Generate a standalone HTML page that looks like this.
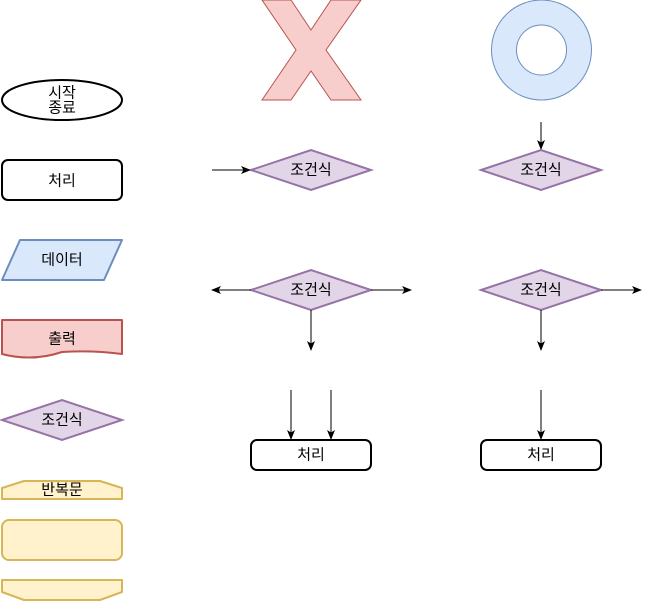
<!DOCTYPE html>
<html><head><meta charset="utf-8"><style>body{margin:0;background:#fff}svg{display:block}text{font-family:"Noto Sans CJK KR","NanumGothic","Liberation Sans",sans-serif;font-size:15px;fill:#000;text-anchor:middle;dominant-baseline:central}</style></head><body>
<svg width="650" height="602" viewBox="0 0 650 602" font-size="15">
<defs><marker id="a" markerWidth="10" markerHeight="10" refX="9" refY="5" orient="auto" markerUnits="userSpaceOnUse"><path d="M0,1 L10,5 L0,9 L2.5,5z" fill="#000"/></marker></defs>
<path d="M262,0 L291,0 L311,30 L331,0 L361,0 L326,50 L361,100 L331,100 L311,71 L291,100 L262,100 L296,50 Z" fill="#f8cecc" stroke="#b85450"/>
<path fill-rule="evenodd" d="M491.5,50 a50,50 0 1,0 100,0 a50,50 0 1,0 -100,0 Z M516.5,50 a25,25 0 1,0 50,0 a25,25 0 1,0 -50,0 Z" fill="#dae8fc" stroke="#6c8ebf"/>
<ellipse cx="62" cy="100" rx="60" ry="20" fill="#fff" stroke="#000" stroke-width="2"/>
<text x="62" y="92">시작</text><text x="62" y="107">종료</text>
<rect x="2" y="160" width="120" height="40" rx="6" fill="#fff" stroke="#000" stroke-width="2"/><text x="62" y="180">처리</text>
<path d="M20,240 L122,240 L104,280 L2,280 Z" fill="#dae8fc" stroke="#6c8ebf" stroke-width="2" stroke-linejoin="round"/><text x="62" y="259">데이터</text>
<path d="M2,320 L122,320 L122,354 Q92,350 62,352 Q32,362 2,354 Z" fill="#f8cecc" stroke="#b85450" stroke-width="2" stroke-linejoin="round"/><text x="62" y="338">출력</text>
<path d="M2,420 L62,400 L122,420 L62,440 Z" fill="#e1d5e7" stroke="#9673a6" stroke-width="2"/><text x="62" y="419">조건식</text>
<path d="M2,488 L24,481 L100,481 L122,488 L122,499 L2,499 Z" fill="#fff2cc" stroke="#d6b656" stroke-width="2" stroke-linejoin="round"/><text x="62" y="489">반복문</text>
<rect x="2" y="520" width="120" height="40" rx="7" fill="#fff2cc" stroke="#d6b656" stroke-width="2"/>
<path d="M2,580 L122,580 L122,592 L100,600 L24,600 L2,592 Z" fill="#fff2cc" stroke="#d6b656" stroke-width="2" stroke-linejoin="round"/>
<g fill="#e1d5e7" stroke="#9673a6" stroke-width="2">
<path d="M251,170 L311,150 L371,170 L311,190 Z"/><path d="M481,170 L541,150 L601,170 L541,190 Z"/>
<path d="M251,290 L311,270 L371,290 L311,310 Z"/><path d="M481,290 L541,270 L601,290 L541,310 Z"/>
</g>
<text x="311" y="169">조건식</text><text x="541" y="169">조건식</text><text x="311" y="289">조건식</text><text x="541" y="289">조건식</text>
<rect x="251" y="440" width="120" height="30" rx="6" fill="#fff" stroke="#000" stroke-width="2"/><text x="311" y="454">처리</text>
<rect x="481" y="440" width="120" height="30" rx="6" fill="#fff" stroke="#000" stroke-width="2"/><text x="541" y="454">처리</text>
<g stroke="#000" marker-end="url(#a)">
<line x1="212" y1="170" x2="250" y2="170"/><line x1="541" y1="122" x2="541" y2="149"/>
<line x1="251" y1="290" x2="212" y2="290"/><line x1="371" y1="290" x2="411" y2="290"/><line x1="311" y1="310" x2="311" y2="350"/>
<line x1="601" y1="290" x2="641" y2="290"/><line x1="541" y1="310" x2="541" y2="350"/>
<line x1="291" y1="390" x2="291" y2="439"/><line x1="331" y1="390" x2="331" y2="439"/><line x1="541" y1="390" x2="541" y2="439"/>
</g>
</svg></body></html>
